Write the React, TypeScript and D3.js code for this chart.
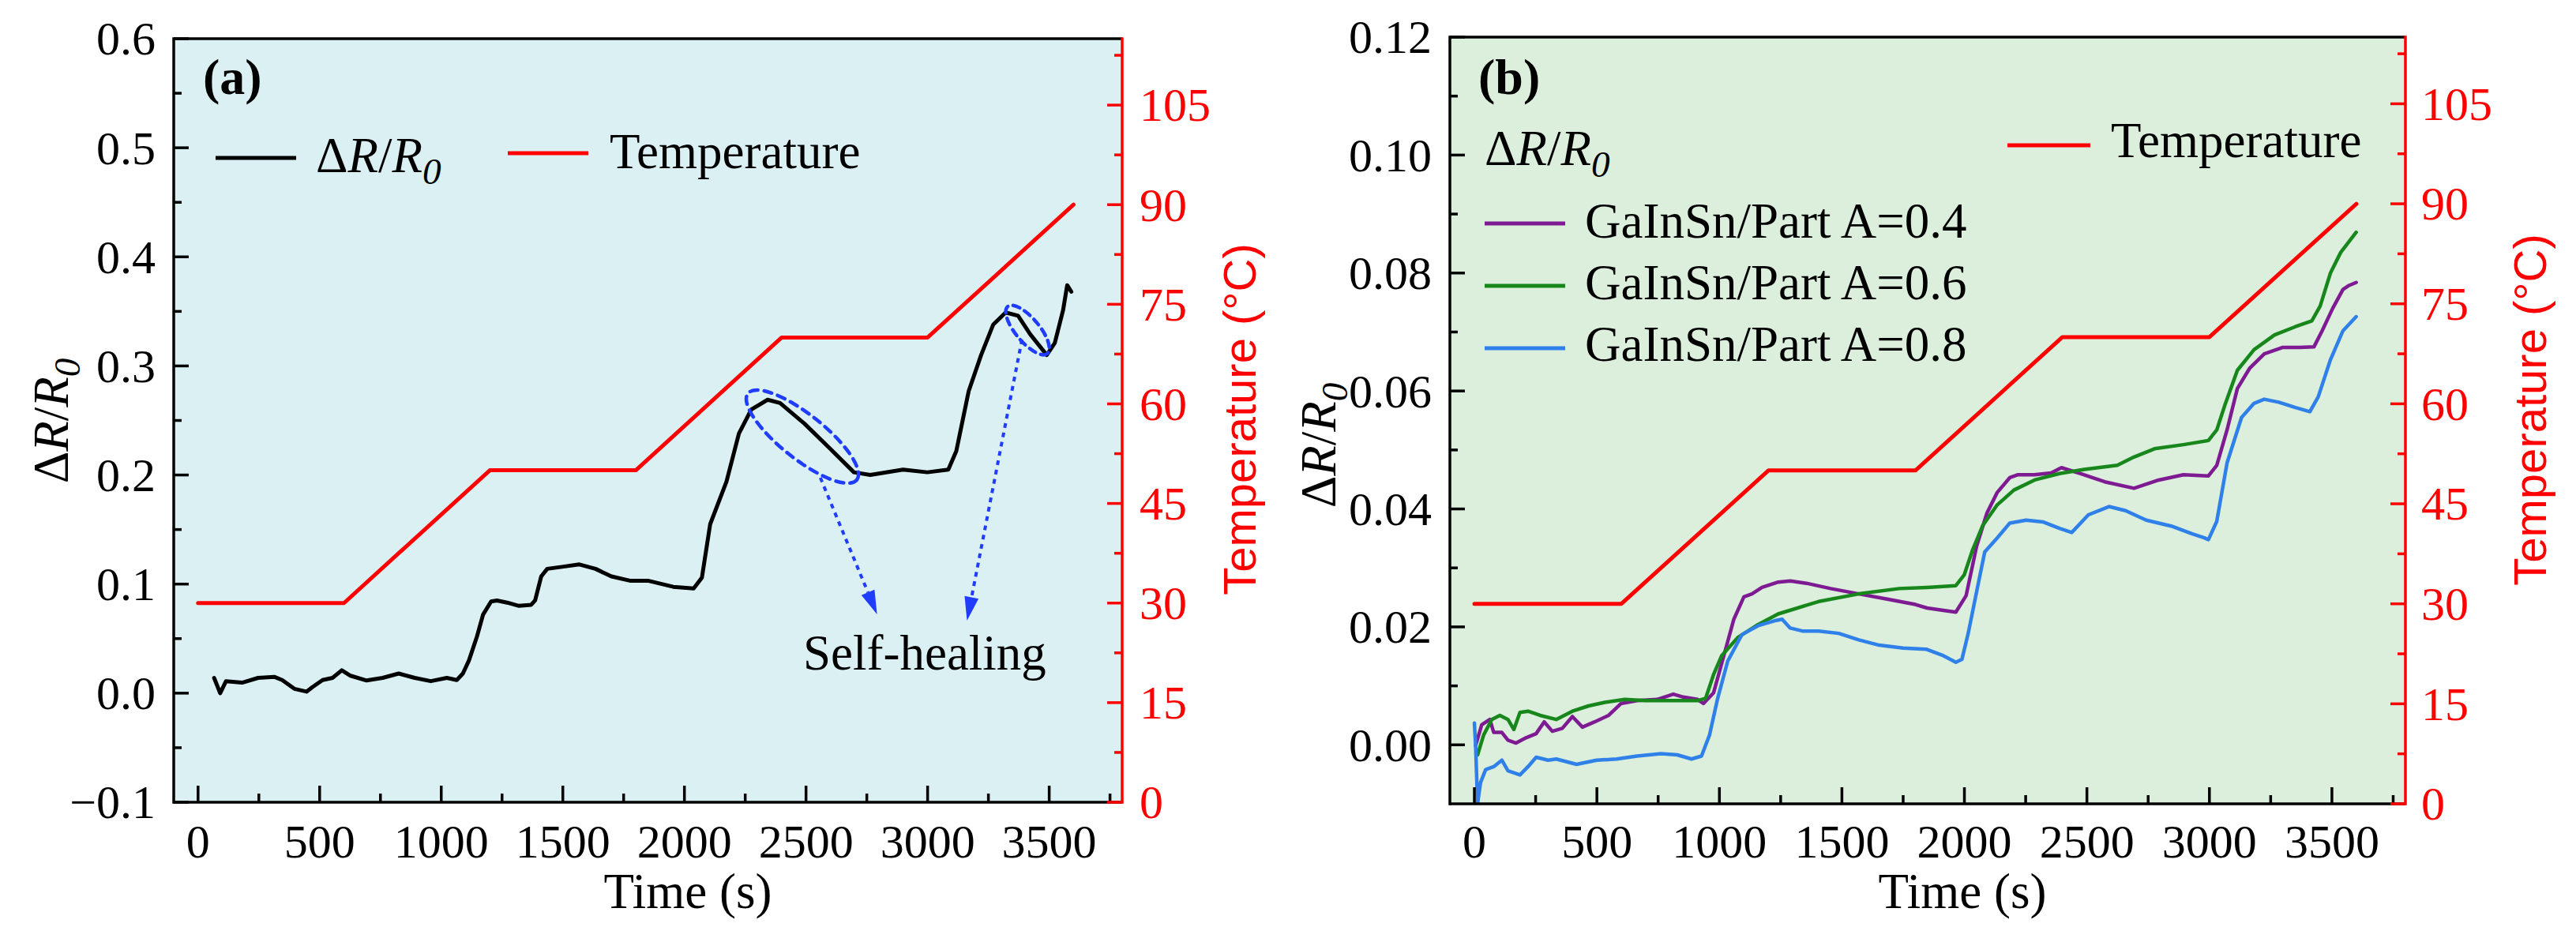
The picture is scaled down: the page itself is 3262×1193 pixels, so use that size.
import React from "react";
import * as d3 from "d3";

// ---------------- data ----------------
const tempTime = [0, 600, 1200, 1800, 2400, 3000, 3600];
const tempValue = [30, 30, 50, 50, 70, 70, 90];

// panel (a): ΔR/R0
const timeA = [66, 91, 115, 181, 247, 313, 346, 396, 446, 470, 512, 553, 591, 627, 693, 759, 825, 891, 957, 1023, 1064, 1089, 1114, 1147, 1172, 1205, 1229, 1271, 1320, 1370, 1386, 1411, 1436, 1502, 1568, 1634, 1700, 1779, 1853, 1954, 2038, 2072, 2106, 2173, 2224, 2275, 2342, 2393, 2494, 2595, 2697, 2764, 2899, 2999, 3085, 3118, 3169, 3220, 3270, 3321, 3372, 3422, 3490, 3523, 3557, 3574, 3591];
const drA = [0.014, 0.0, 0.011, 0.0096, 0.014, 0.015, 0.012, 0.004, 0.0014, 0.0055, 0.012, 0.014, 0.021, 0.016, 0.0116, 0.014, 0.018, 0.014, 0.011, 0.014, 0.012, 0.018, 0.03, 0.052, 0.072, 0.084, 0.085, 0.083, 0.08, 0.081, 0.085, 0.107, 0.114, 0.116, 0.118, 0.114, 0.107, 0.103, 0.103, 0.0975, 0.096, 0.106, 0.155, 0.194, 0.238, 0.26, 0.269, 0.266, 0.247, 0.225, 0.2025, 0.2, 0.205, 0.2025, 0.205, 0.222, 0.277, 0.31, 0.338, 0.349, 0.346, 0.329, 0.31, 0.321, 0.351, 0.374, 0.368];

// panel (b): GaInSn/Part A = 0.4
const timeP = [5, 30, 63, 79, 112, 137, 170, 211, 252, 285, 318, 359, 400, 441, 491, 548, 598, 664, 746, 812, 853, 911, 935, 976, 1018, 1059, 1100, 1133, 1174, 1240, 1289, 1355, 1454, 1569, 1685, 1800, 1847, 1914, 1965, 2007, 2050, 2092, 2134, 2185, 2219, 2286, 2354, 2396, 2472, 2573, 2692, 2793, 2894, 2996, 3030, 3072, 3114, 3165, 3224, 3300, 3368, 3427, 3460, 3503, 3545, 3570, 3599];
const valP = [-0.0001, 0.0034, 0.0043, 0.0021, 0.0021, 0.0008, 0.0003, 0.0012, 0.0019, 0.0039, 0.0023, 0.0028, 0.0048, 0.003, 0.0039, 0.005, 0.007, 0.0075, 0.0077, 0.0086, 0.0081, 0.0077, 0.007, 0.0088, 0.0151, 0.0213, 0.0251, 0.0256, 0.0267, 0.0276, 0.0278, 0.0274, 0.0265, 0.0256, 0.0247, 0.0238, 0.0232, 0.0228, 0.0225, 0.0253, 0.0337, 0.0393, 0.0428, 0.0453, 0.0458, 0.0458, 0.0461, 0.047, 0.046, 0.0446, 0.0435, 0.0449, 0.0458, 0.0456, 0.0474, 0.0534, 0.0604, 0.0639, 0.0663, 0.0674, 0.0674, 0.0675, 0.0702, 0.074, 0.0772, 0.0779, 0.0784];

// panel (b): GaInSn/Part A = 0.6
const timeG = [13, 38, 71, 104, 137, 161, 186, 219, 268, 334, 400, 466, 532, 614, 697, 795, 911, 944, 976, 1009, 1075, 1158, 1240, 1405, 1569, 1734, 1847, 1965, 1999, 2033, 2075, 2134, 2202, 2286, 2388, 2489, 2624, 2692, 2776, 2894, 2996, 3030, 3063, 3114, 3182, 3266, 3351, 3418, 3452, 3494, 3536, 3599];
const valG = [-0.0017, 0.0017, 0.0043, 0.005, 0.0043, 0.0026, 0.0055, 0.0057, 0.005, 0.0043, 0.0057, 0.0066, 0.0072, 0.0077, 0.0075, 0.0075, 0.0075, 0.0079, 0.0119, 0.0151, 0.0182, 0.0204, 0.0222, 0.0243, 0.0256, 0.0265, 0.0267, 0.027, 0.0288, 0.033, 0.0372, 0.0407, 0.0432, 0.0449, 0.046, 0.0467, 0.0474, 0.0488, 0.0502, 0.0509, 0.0516, 0.0534, 0.0576, 0.0635, 0.067, 0.0695, 0.0709, 0.0719, 0.0744, 0.08, 0.0835, 0.0869];

// panel (b): GaInSn/Part A = 0.8
const timeBl = [0, 5, 13, 25, 46, 79, 112, 137, 186, 219, 252, 301, 334, 417, 499, 581, 664, 762, 828, 886, 927, 960, 993, 1034, 1092, 1158, 1232, 1256, 1289, 1339, 1405, 1487, 1569, 1652, 1750, 1846, 1910, 1965, 1990, 2016, 2050, 2083, 2134, 2185, 2252, 2320, 2388, 2438, 2506, 2590, 2658, 2742, 2844, 2928, 2979, 2996, 3030, 3072, 3131, 3182, 3224, 3283, 3351, 3410, 3444, 3494, 3545, 3599];
const valBl = [0.0037, -0.0001, -0.01, -0.0064, -0.0042, -0.0037, -0.0026, -0.0044, -0.0051, -0.0037, -0.0021, -0.0026, -0.0024, -0.0033, -0.0026, -0.0024, -0.0019, -0.0015, -0.0017, -0.0024, -0.0019, 0.0017, 0.0079, 0.0142, 0.0187, 0.0202, 0.0211, 0.0213, 0.0198, 0.0193, 0.0193, 0.0189, 0.0178, 0.0169, 0.0164, 0.0162, 0.0152, 0.014, 0.0145, 0.019, 0.026, 0.0327, 0.0351, 0.0376, 0.0381, 0.0378, 0.0367, 0.036, 0.039, 0.0404, 0.0397, 0.0381, 0.0371, 0.0358, 0.0351, 0.0348, 0.0379, 0.0478, 0.0555, 0.0579, 0.0586, 0.0581, 0.0572, 0.0565, 0.059, 0.0653, 0.0702, 0.0726];

// ticks
const xMajor = [0, 500, 1000, 1500, 2000, 2500, 3000, 3500];
const xMinor = [250, 750, 1250, 1750, 2250, 2750, 3250, 3750];
const yMajorA = [-0.1, 0, 0.1, 0.2, 0.3, 0.4, 0.5, 0.6];
const yMinorA = [-0.05, 0.05, 0.15, 0.25, 0.35, 0.45, 0.55];
const yMajorB = [0, 0.02, 0.04, 0.06, 0.08, 0.1, 0.12];
const yMinorB = [0.01, 0.03, 0.05, 0.07, 0.09, 0.11];
const tMajor = [0, 15, 30, 45, 60, 75, 90, 105];
const tMinor = [7.5, 22.5, 37.5, 52.5, 67.5, 82.5, 97.5, 112.5];

const seriesNamesB = ["GaInSn/Part A=0.4", "GaInSn/Part A=0.6", "GaInSn/Part A=0.8"];
const seriesColorsB = ["#7e1b93", "#17861b", "#2f80e8"];

// annotation anchors in data units (panel a)
const ellipse1 = { t: 2485, v: 0.2352 };
const ellipse2 = { t: 3411, v: 0.3329 };
const arrow1 = { t0: 2559, v0: 0.1975, t1: 2792, v1: 0.0723 };
const arrow2 = { t0: 3388, v0: 0.3242, t1: 3162, v1: 0.0665 };
const selfHealPos = { t: 2488, v: 0.0216 };

// ---------------- styling ----------------
const SERIF = "'Liberation Serif', 'Times New Roman', Times, serif";
const SANS = "'Liberation Sans', Arial, Helvetica, sans-serif";
const RED = "#ff0000";
const AX_W = 3.5;
const TICK_FS = 60;
const TEXT_FS = 63;

type Geo = { L: number; R: number; T: number; B: number };

const DR = () => (
  <>
    <tspan>Δ</tspan>
    <tspan fontStyle="italic">R</tspan>
    <tspan>/</tspan>
    <tspan fontStyle="italic">R</tspan>
    <tspan fontStyle="italic" fontSize="0.75em" dy="0.32em">0</tspan>
  </>
);

function Axes(props: {
  g: Geo;
  x: d3.ScaleLinear<number, number>;
  y: d3.ScaleLinear<number, number>;
  yT: d3.ScaleLinear<number, number>;
  yMajor: number[];
  yMinor: number[];
  yFmt: (n: number) => string;
  yLabelX: number;
  tLabelX: number;
  titleX: number;
  titleY: number;
  rTitleX: number;
  rTitleY: number;
  timeX: number;
}) {
  const { g, x, y, yT } = props;
  return (
    <g>
      <line x1={g.L} x2={g.R} y1={g.T} y2={g.T} stroke="#000" strokeWidth={AX_W} />
      <line x1={g.L} x2={g.R} y1={g.B} y2={g.B} stroke="#000" strokeWidth={AX_W} />
      <line x1={g.L} x2={g.L} y1={g.T - AX_W / 2} y2={g.B + AX_W / 2} stroke="#000" strokeWidth={AX_W} />
      <line x1={g.R} x2={g.R} y1={g.T - AX_W / 2} y2={g.B + AX_W / 2} stroke={RED} strokeWidth={AX_W} />
      {xMajor.map((t) => (
        <g key={"xm" + t}>
          <line x1={x(t)} x2={x(t)} y1={g.B} y2={g.B - 21} stroke="#000" strokeWidth={AX_W} />
          <text x={x(t)} y={1086} textAnchor="middle" fontFamily={SERIF} fontSize={TICK_FS}>
            {t}
          </text>
        </g>
      ))}
      {xMinor.map((t) => (
        <line key={"xn" + t} x1={x(t)} x2={x(t)} y1={g.B} y2={g.B - 11} stroke="#000" strokeWidth={AX_W} />
      ))}
      {props.yMajor.map((v) => (
        <g key={"ym" + v}>
          <line x1={g.L} x2={g.L + 19} y1={y(v)} y2={y(v)} stroke="#000" strokeWidth={AX_W} />
          <text x={props.yLabelX} y={y(v)} dy="0.34em" textAnchor="end" fontFamily={SERIF} fontSize={TICK_FS}>
            {props.yFmt(v)}
          </text>
        </g>
      ))}
      {props.yMinor.map((v) => (
        <line key={"yn" + v} x1={g.L} x2={g.L + 10} y1={y(v)} y2={y(v)} stroke="#000" strokeWidth={AX_W} />
      ))}
      {tMajor.map((v) => (
        <g key={"tm" + v}>
          <line x1={g.R} x2={g.R - 19} y1={yT(v)} y2={yT(v)} stroke={RED} strokeWidth={AX_W} />
          <text x={props.tLabelX} y={yT(v)} dy="0.34em" textAnchor="start" fontFamily={SERIF} fontSize={TICK_FS} fill={RED}>
            {v}
          </text>
        </g>
      ))}
      {tMinor.map((v) => (
        <line key={"tn" + v} x1={g.R} x2={g.R - 10} y1={yT(v)} y2={yT(v)} stroke={RED} strokeWidth={AX_W} />
      ))}
      <text
        transform={`translate(${props.titleX},${props.titleY}) rotate(-90)`}
        textAnchor="middle"
        fontFamily={SERIF}
        fontSize={TEXT_FS}
      >
        <DR />
      </text>
      <text
        transform={`translate(${props.rTitleX},${props.rTitleY}) rotate(-90)`}
        textAnchor="middle"
        fontFamily={SANS}
        fontSize={58}
        fill={RED}
      >
        Temperature (°C)
      </text>
      <text x={props.timeX} y={1150} textAnchor="middle" fontFamily={SERIF} fontSize={TEXT_FS}>
        Time (s)
      </text>
    </g>
  );
}

function arrowHead(x0: number, y0: number, x1: number, y1: number, len: number, half: number) {
  const dx = x1 - x0, dy = y1 - y0;
  const d = Math.hypot(dx, dy);
  const ux = dx / d, uy = dy / d;
  const bx = x1 - ux * len, by = y1 - uy * len;
  const px = -uy, py = ux;
  return {
    base: [bx, by],
    points: `${x1},${y1} ${bx + px * half},${by + py * half} ${bx - px * half},${by - py * half}`,
  };
}

export default function App() {
  const gA: Geo = { L: 220, R: 1421, T: 49, B: 1016 };
  const gB: Geo = { L: 1836, R: 3046, T: 47, B: 1018 };

  const xA = d3.scaleLinear().domain([-100, 3800]).range([gA.L, gA.R]);
  const yA = d3.scaleLinear().domain([-0.1, 0.6]).range([gA.B, gA.T]);
  const tA = d3.scaleLinear().domain([0, 115]).range([gA.B, gA.T]);

  const xB = d3.scaleLinear().domain([-100, 3800]).range([gB.L, gB.R]);
  const yB = d3.scaleLinear().domain([-0.01, 0.12]).range([gB.B, gB.T]);
  const tB = d3.scaleLinear().domain([0, 115]).range([gB.B, gB.T]);

  const mk = (xs: number[], vs: number[], x: any, y: any) =>
    d3.line<number>().x((_, i) => x(xs[i])).y((d) => y(d))(vs) || "";

  const tempPathA = mk(tempTime, tempValue, xA, tA);
  const tempPathB = mk(tempTime, tempValue, xB, tB);
  const drPathA = mk(timeA, drA, xA, yA);
  const pathsB = [
    mk(timeP, valP, xB, yB),
    mk(timeG, valG, xB, yB),
    mk(timeBl, valBl, xB, yB),
  ];

  const fmtA = (v: number) => d3.format(".1f")(v);
  const fmtB = (v: number) => d3.format(".2f")(v);

  const BLUE = "#1f3cff";
  const a1 = { x0: xA(arrow1.t0), y0: yA(arrow1.v0), x1: xA(arrow1.t1), y1: yA(arrow1.v1) };
  const a2 = { x0: xA(arrow2.t0), y0: yA(arrow2.v0), x1: xA(arrow2.t1), y1: yA(arrow2.v1) };
  const h1 = arrowHead(a1.x0, a1.y0, a1.x1, a1.y1, 30, 9);
  const h2 = arrowHead(a2.x0, a2.y0, a2.x1, a2.y1, 30, 9);
  const e1 = { cx: xA(ellipse1.t), cy: yA(ellipse1.v) };
  const e2 = { cx: xA(ellipse2.t), cy: yA(ellipse2.v) };

  return (
    <svg
      width={3262}
      height={1193}
      viewBox="0 0 3262 1193"
      style={{ position: "absolute", left: 0, top: 0, background: "#fff" }}
    >
      <defs>
        <clipPath id="clipA">
          <rect x={gA.L} y={gA.T} width={gA.R - gA.L} height={gA.B - gA.T} />
        </clipPath>
        <clipPath id="clipB">
          <rect x={gB.L} y={gB.T} width={gB.R - gB.L} height={gB.B - gB.T} />
        </clipPath>
      </defs>

      {/* ---------- panel (a) ---------- */}
      <rect x={gA.L} y={gA.T} width={gA.R - gA.L} height={gA.B - gA.T} fill="#dbf0f3" />
      <g clipPath="url(#clipA)" fill="none" strokeLinejoin="round" strokeLinecap="round">
        <path d={tempPathA} stroke={RED} strokeWidth={5} />
        <path d={drPathA} stroke="#000" strokeWidth={5} />
        <ellipse
          cx={e1.cx}
          cy={e1.cy}
          rx={88}
          ry={28}
          transform={`rotate(38.5 ${e1.cx} ${e1.cy})`}
          stroke={BLUE}
          strokeWidth={4.5}
          strokeDasharray="10 8"
        />
        <ellipse
          cx={e2.cx}
          cy={e2.cy}
          rx={39}
          ry={15}
          transform={`rotate(50 ${e2.cx} ${e2.cy})`}
          stroke={BLUE}
          strokeWidth={4.5}
          strokeDasharray="9 7"
        />
        <line x1={a1.x0} y1={a1.y0} x2={h1.base[0]} y2={h1.base[1]} stroke={BLUE} strokeWidth={4} strokeDasharray="6 6" strokeLinecap="butt" />
        <line x1={a2.x0} y1={a2.y0} x2={h2.base[0]} y2={h2.base[1]} stroke={BLUE} strokeWidth={4} strokeDasharray="6 6" strokeLinecap="butt" />
        <polygon points={h1.points} fill={BLUE} stroke="none" />
        <polygon points={h2.points} fill={BLUE} stroke="none" />
      </g>
      <text x={xA(selfHealPos.t)} y={yA(selfHealPos.v)} fontFamily={SERIF} fontSize={TEXT_FS}>
        Self-healing
      </text>
      <text x={257} y={119} fontFamily={SERIF} fontSize={64} fontWeight="bold">
        (a)
      </text>
      <line x1={273} x2={375} y1={200} y2={200} stroke="#000" strokeWidth={5} />
      <text x={400} y={218} fontFamily={SERIF} fontSize={TEXT_FS}>
        <DR />
      </text>
      <line x1={643} x2={745} y1={194} y2={194} stroke={RED} strokeWidth={5} />
      <text x={772} y={213} fontFamily={SERIF} fontSize={TEXT_FS}>
        Temperature
      </text>
      <Axes
        g={gA}
        x={xA}
        y={yA}
        yT={tA}
        yMajor={yMajorA}
        yMinor={yMinorA}
        yFmt={fmtA}
        yLabelX={197}
        tLabelX={1443}
        titleX={86}
        titleY={533}
        rTitleX={1590}
        rTitleY={531}
        timeX={871}
      />

      {/* ---------- panel (b) ---------- */}
      <rect x={gB.L} y={gB.T} width={gB.R - gB.L} height={gB.B - gB.T} fill="#dbefdc" />
      <g clipPath="url(#clipB)" fill="none" strokeLinejoin="round" strokeLinecap="round">
        <path d={tempPathB} stroke={RED} strokeWidth={5} />
        {pathsB.map((p, i) => (
          <path key={i} d={p} stroke={seriesColorsB[i]} strokeWidth={4.5} />
        ))}
      </g>
      <text x={1872} y={119} fontFamily={SERIF} fontSize={64} fontWeight="bold">
        (b)
      </text>
      <text x={1880} y={209} fontFamily={SERIF} fontSize={TEXT_FS}>
        <DR />
      </text>
      {seriesNamesB.map((name, i) => (
        <g key={name}>
          <line x1={1880} x2={1982} y1={283 + i * 79} y2={283 + i * 79} stroke={seriesColorsB[i]} strokeWidth={5} />
          <text x={2007} y={301 + i * 78} fontFamily={SERIF} fontSize={TEXT_FS}>
            {name}
          </text>
        </g>
      ))}
      <line x1={2542} x2={2647} y1={184} y2={184} stroke={RED} strokeWidth={5} />
      <text x={2673} y={199} fontFamily={SERIF} fontSize={TEXT_FS}>
        Temperature
      </text>
      <Axes
        g={gB}
        x={xB}
        y={yB}
        yT={tB}
        yMajor={yMajorB}
        yMinor={yMinorB}
        yFmt={fmtB}
        yLabelX={1813}
        tLabelX={3066}
        titleX={1691}
        titleY={564}
        rTitleX={3224}
        rTitleY={519}
        timeX={2485}
      />
    </svg>
  );
}
